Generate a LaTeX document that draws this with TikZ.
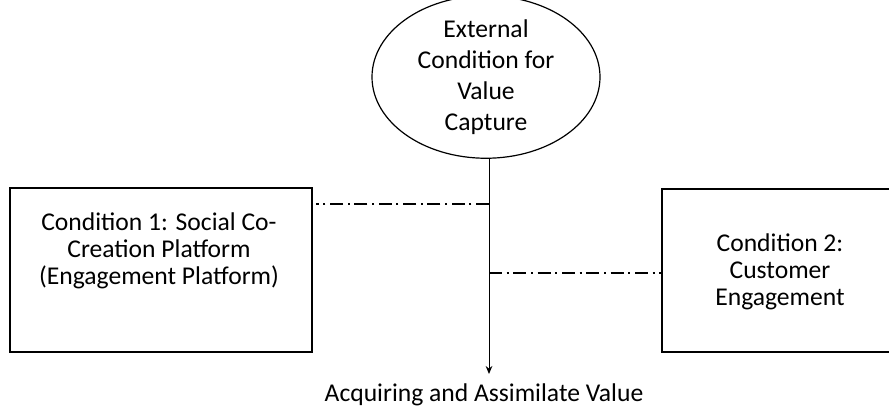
\documentclass[tikz,border=0pt]{standalone}
\usepackage{fontspec}
\setmainfont{Carlito}
\usetikzlibrary{shapes.geometric,arrows.meta}

\tikzset{every picture/.style={line width=0.75pt}}
\tikzset{
  condbox/.style={draw, rectangle, line width=1pt, inner sep=0pt},
  dashdot/.style={dash pattern={on 9.75pt off 3.5pt on 1.5pt off 3.5pt}, line width=0.9pt},
  boxtext/.style={align=center, inner sep=0.75pt, font=\fontsize{19.2}{20.25}\selectfont}
}

\begin{document}
\begin{tikzpicture}[x=0.75pt,y=0.75pt,yscale=-1,xscale=1]
\useasboundingbox (0,0) rectangle (889,407); %set diagram size

%Shape: Ellipse
\node [draw, ellipse, line width=0.9pt, minimum width=171pt, minimum height=99pt, inner sep=0pt, align=center, font=\fontsize{19.2}{23.25}\selectfont] (extcond) at (486,77) {External\\Condition for\\Value\\Capture};
%Shape: Rectangle
\node [condbox, minimum width=226.5pt, minimum height=123pt] (cond1) at (161,270) {};
%Shape: Rectangle
\node [condbox, minimum width=177pt, minimum height=122.25pt] (cond2) at (780,270.5) {};

%Junctions
\coordinate (j1) at (489,204);
\coordinate (j2) at (489,273);
\coordinate (arrowend) at (489,374);

%Straight Lines
\draw [-{Stealth[length=6pt,width=5pt]}] (extcond.south -| j1) -- (arrowend) ;
%Straight Lines
\draw [dashdot] (j1) -- ([xshift=2.25pt]cond1.east |- j1) ;
%Straight Lines
\draw [dashdot] (j2) -- (cond2.west |- j2) ;

% Text Node
\node [boxtext] (cond1txt) at (159,251) {Condition 1: Social Co-\\Creation Platform\\(Engagement Platform)};
% Text Node
\node [boxtext] (cond2txt) at (780,272) {Condition 2:\\Customer\\Engagement};
% Text Node
\node [boxtext] (valuetxt) at (484,395) {Acquiring and Assimilate Value};

\end{tikzpicture}
\end{document}
